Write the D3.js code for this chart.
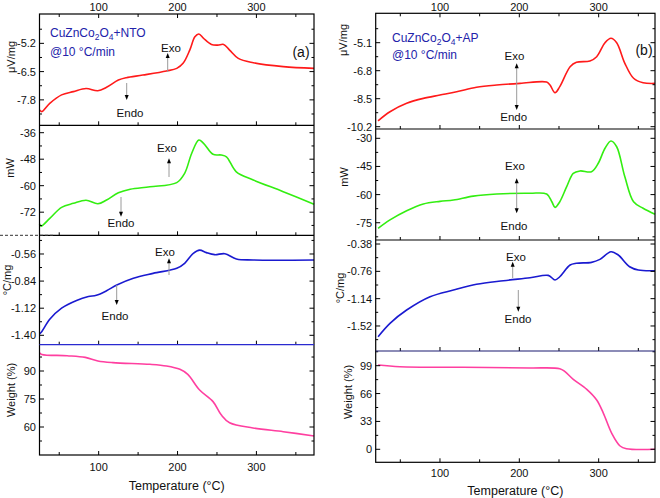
<!DOCTYPE html>
<html><head><meta charset="utf-8">
<script src="https://cdn.jsdelivr.net/npm/d3@7/dist/d3.min.js"></script>
<style>body{margin:0;background:#fff}svg{display:block}text{font-family:"Liberation Sans",Arial,sans-serif}</style>
</head><body><svg id="c" width="660" height="498"></svg>
<script>
// ---------- DATA ----------
// Panel (a): CuZnCo2O4 + NTO
const tA_dta = [25,28,38,53,68,84,99,110,125,135,156,186,199,207,215.5,222,227,233,243,251,258.5,266,277,296,334,373];
const vA_dta = [-8.26,-8.34,-7.96,-7.57,-7.42,-7.28,-7.38,-7.22,-6.89,-6.78,-6.66,-6.47,-6.35,-6.12,-5.51,-4.9,-4.77,-4.97,-5.25,-5.28,-5.25,-5.51,-5.89,-6.09,-6.27,-6.35];
const tA_dsc = [25,27,38,53,68,84,99,110,125,140,165,199,209,218,227,233,245,255.5,262,274.5,296,334,373];
const vA_dsc = [-77.3,-78.3,-74.8,-69.8,-68,-66.6,-68.2,-66.5,-63.2,-61.6,-60.5,-58.6,-54.4,-45.3,-39.3,-40.8,-45.8,-46.1,-46.9,-53.7,-57.4,-62.7,-68.4];
const tA_dt = [25,28,38,53,72,87,97,110,123,144,169,199,209,220,228,236.6,247,260,274.6,296,373];
const vA_dt = [-1.386,-1.36,-1.235,-1.12,-1.04,-1.0,-0.987,-0.94,-0.88,-0.81,-0.76,-0.708,-0.656,-0.553,-0.52,-0.546,-0.567,-0.557,-0.612,-0.622,-0.622];
const tA_tg = [25,28,60,83,99,118,165,186,203,213,228,245,255.6,266,295.6,334,373];
const vA_tg = [99.8,98.9,98.2,97.3,95.4,94.5,93.6,92.7,90.9,88.2,79.8,73.6,66.4,62.3,59.5,57.5,55.2];
// Panel (b): CuZnCo2O4 + AP
const tB_dta = [22,37,58,79,100,121,146,171.5,201,234.5,238.7,245,251,264,272,289,297.5,308,315.5,322.7,333,344,356,371];
const vB_dta = [-9.84,-9.29,-8.78,-8.48,-8.28,-8.08,-7.81,-7.67,-7.57,-7.49,-7.67,-8.14,-7.77,-6.56,-6.29,-6.21,-5.95,-5.1,-4.83,-5.1,-6.35,-7.26,-7.53,-7.57];
const tB_dsc = [22,37,58,79,100,117,142,171.5,213.5,234.5,241,245,251,259.7,268,276.5,291,299.5,308,315.5,322.7,333,344,356,371];
const vB_dsc = [-78,-73.5,-68.6,-65,-63.6,-62.9,-60.8,-59.7,-59.3,-59.7,-63.8,-66.8,-63.8,-55.8,-48.7,-47.4,-47.8,-43.3,-35.3,-31.4,-34.5,-50.5,-63.8,-67.3,-70.5];
const tB_dt = [22,37,58,87.5,117,146,180,213.5,236.5,245,251,264,272,291,301.6,315.5,324.7,339,350,371];
const vB_dt = [-1.669,-1.483,-1.298,-1.113,-1.02,-0.94,-0.89,-0.849,-0.816,-0.88,-0.835,-0.672,-0.648,-0.635,-0.593,-0.487,-0.533,-0.696,-0.742,-0.751];
const tB_tg = [22,49.6,129,213.5,251,257.6,268,285,297.5,306,316.5,327,335,371];
const vB_tg = [99.8,97.8,97.1,96.3,95.4,91.9,82.9,71,58.4,42.6,18.9,3.9,0.7,0];

// tick labels
const xTicks = [100,200,300];
const yTicksA = [[-5.2,-6.5,-7.8],[-36,-48,-60,-72],[-0.56,-0.84,-1.12,-1.40],[90,75,60]];
const yTicksB = [[-5.1,-6.8,-8.5,-10.2],[-30,-45,-60,-75],[-0.38,-0.76,-1.14,-1.52],[99,66,33,0]];
const yLabels = ["\u03bcV/mg","mW","\u00b0C/mg","Weight (%)"];
const colors = ["#ff1a1a","#33ee11","#1a1ad0","#ff3fa0"];

// ---------- LAYOUT ----------
const svg = d3.select("#c");
const FONT = 11;
const panels = [
  { x0:39.5, x1:314, xd:[25,373], bounds:[14,125.3,235.3,344.7,455],
    dom:[[-8.97,-3.85],[-82.47,-32.65],[-1.497,-0.367],[45,104.1]],
    ticks:yTicksA, fmt:[".1f","d",".2f","d"],
    series:[[tA_dta,vA_dta],[tA_dsc,vA_dsc],[tA_dt,vA_dt],[tA_tg,vA_tg]],
    labPos:[[11,57],[10,168],[7,280],[11,390]],
    title:["NTO"], tag:"(a)", tagX:301, tagY:57, textX:50,
    xlabY:471, titleY:490 },
  { x0:375.7, x1:655, xd:[19,371], bounds:[13.3,129,240,351,462.3],
    dom:[[-10.34,-3.315],[-84.2,-25.04],[-1.868,-0.324],[-15.4,116.4]],
    ticks:yTicksB, fmt:[".1f","d",".2f","d"],
    series:[[tB_dta,vB_dta],[tB_dsc,vB_dsc],[tB_dt,vB_dt],[tB_tg,vB_tg]],
    labPos:[[343,40],[344,177],[340,288],[348,392]],
    title:["AP"], tag:"(b)", tagX:644, tagY:55, textX:392,
    xlabY:477, titleY:495 }
];

panels.forEach((p,pi)=>{
  const x = d3.scaleLinear().domain(p.xd).range([p.x0,p.x1]);
  const g = svg.append("g");
  const xMinor = [50,150,250,350];
  for(let r=0;r<4;r++){
    const y0=p.bounds[r], y1=p.bounds[r+1];
    const y = d3.scaleLinear().domain(p.dom[r]).range([y1,y0]);
    const maj = p.ticks[r];
    const step = Math.abs(maj[0]-maj[1]);
    const lo=Math.min(...p.dom[r]), hi=Math.max(...p.dom[r]);
    const minors=[];
    for(let v=maj[0]+step/2; v<hi; v+=step) minors.push(v);
    for(let v=maj[0]-step/2; v>lo; v-=step) minors.push(v);
    const gr = g.append("g");
    const [ts,vs]=p.series[r];
    const pts = ts.map((t,i)=>[t,vs[i]]);
    gr.append("path").datum(pts)
      .attr("d", d3.line().x(d=>x(d[0])).y(d=>y(d[1])).curve(d3.curveCatmullRom.alpha(0.5)))
      .attr("fill","none").attr("stroke",colors[r]).attr("stroke-width",1.6);
    maj.forEach(v=>{
      const yy=y(v);
      gr.append("line").attr("x1",p.x0).attr("x2",p.x0+4.5).attr("y1",yy).attr("y2",yy).attr("stroke","#000");
      gr.append("line").attr("x1",p.x1).attr("x2",p.x1-4.5).attr("y1",yy).attr("y2",yy).attr("stroke","#000");
      gr.append("text").attr("x",p.x0-3.5).attr("y",yy+4).attr("text-anchor","end")
        .attr("font-size",FONT).attr("fill","#111").text(d3.format(p.fmt[r])(v).replace("\u2212","-"));
    });
    minors.forEach(v=>{
      const yy=y(v);
      gr.append("line").attr("x1",p.x0).attr("x2",p.x0+2.5).attr("y1",yy).attr("y2",yy).attr("stroke","#000");
      gr.append("line").attr("x1",p.x1).attr("x2",p.x1-2.5).attr("y1",yy).attr("y2",yy).attr("stroke","#000");
    });
    xTicks.forEach(t=>gr.append("line").attr("x1",x(t)).attr("x2",x(t)).attr("y1",y1).attr("y2",y1-4).attr("stroke","#000"));
    xMinor.filter(t=>t>p.xd[0]&&t<p.xd[1]).forEach(t=>gr.append("line").attr("x1",x(t)).attr("x2",x(t)).attr("y1",y1).attr("y2",y1-3).attr("stroke","#000"));
    if(r===0){
      xTicks.forEach(t=>{
        gr.append("line").attr("x1",x(t)).attr("x2",x(t)).attr("y1",y0).attr("y2",y0+4).attr("stroke","#000");
        gr.append("text").attr("x",x(t)).attr("y",11).attr("text-anchor","middle").attr("font-size",FONT).attr("fill","#111").text(t);
      });
      xMinor.filter(t=>t>p.xd[0]&&t<p.xd[1]).forEach(t=>gr.append("line").attr("x1",x(t)).attr("x2",x(t)).attr("y1",y0).attr("y2",y0+3).attr("stroke","#000"));
    }
    const [lx,ly]=p.labPos[r];
    gr.append("text").attr("transform",`translate(${lx},${ly}) rotate(-90)`).attr("text-anchor","middle")
      .attr("dy","0.35em").attr("font-size",FONT).attr("fill","#111").text(yLabels[r]);
  }
  g.append("rect").attr("x",p.x0).attr("y",p.bounds[0]).attr("width",p.x1-p.x0).attr("height",p.bounds[4]-p.bounds[0])
    .attr("fill","none").attr("stroke","#000").attr("stroke-width",1.2);
  [1,2,3].forEach(i=>{
    g.append("line").attr("x1",p.x0).attr("x2",p.x1).attr("y1",p.bounds[i]).attr("y2",p.bounds[i])
      .attr("stroke", i===3 ? (pi===0?"#2a2ad0":"#1a1a70") : "#000").attr("stroke-width",1.2);
  });
  xTicks.forEach(t=>g.append("text").attr("x",x(t)).attr("y",p.xlabY).attr("text-anchor","middle").attr("font-size",FONT).attr("fill","#111").text(t));
  g.append("text").attr("x",(p.x0+p.x1)/2).attr("y",p.titleY).attr("text-anchor","middle").attr("font-size",12.5).attr("fill","#111").text("Temperature (\u00b0C)");
  const tt = g.append("text").attr("x",p.textX).attr("y",pi===0?37:42).attr("font-size",12).attr("fill","#2222aa");
  tt.append("tspan").text("CuZnCo");
  tt.append("tspan").attr("dy",3).attr("font-size",8.5).text("2");
  tt.append("tspan").attr("dy",-3).text("O");
  tt.append("tspan").attr("dy",3).attr("font-size",8.5).text("4");
  tt.append("tspan").attr("dy",-3).text("+"+p.title[0]);
  g.append("text").attr("x",p.textX).attr("y",pi===0?56:59).attr("font-size",12).attr("fill","#2222aa").text("@10 \u00b0C/min");
  g.append("text").attr("x",p.tagX).attr("y",p.tagY).attr("text-anchor","middle").attr("font-size",14).attr("fill","#111").text(p.tag);
});

svg.append("line").attr("x1",0).attr("x2",55).attr("y1",235.3).attr("y2",235.3).attr("stroke","#333").attr("stroke-dasharray","3,2");

function arrow(x,yFrom,yTo){
  svg.append("line").attr("x1",x).attr("x2",x).attr("y1",yFrom).attr("y2",yTo+(yTo<yFrom?4:-4)).attr("stroke","#9a9a9a").attr("stroke-width",1);
  const d = yTo<yFrom ? 1 : -1;
  svg.append("path").attr("d",`M${x},${yTo} L${x-2},${yTo+5*d} L${x+2},${yTo+5*d} Z`).attr("fill","#000");
}
function label(x,y,t){ svg.append("text").attr("x",x).attr("y",y+4).attr("text-anchor","middle").attr("font-size",11.5).attr("fill","#111").text(t); }
arrow(167.7,72,53); label(171,47.7,"Exo"); arrow(126.7,83,100); label(130,112.7,"Endo");
arrow(169,177,158.3); label(167,147.7,"Exo"); arrow(121,197,216.7); label(121,222.7,"Endo");
arrow(169,275,258.3); label(165,251.7,"Exo"); arrow(116.7,285,305); label(115,316,"Endo");
arrow(516.7,86,63.3); arrow(516.7,86,110); label(514.5,55.7,"Exo"); label(513.7,116.7,"Endo");
arrow(516.7,196,178.3); arrow(516.7,196,213.3); label(515,165.7,"Exo"); label(514,226,"Endo");
arrow(512.7,278,261.7); label(516,256.7,"Exo"); arrow(518.3,290,311.7); label(518,319.3,"Endo");
</script></body></html>
